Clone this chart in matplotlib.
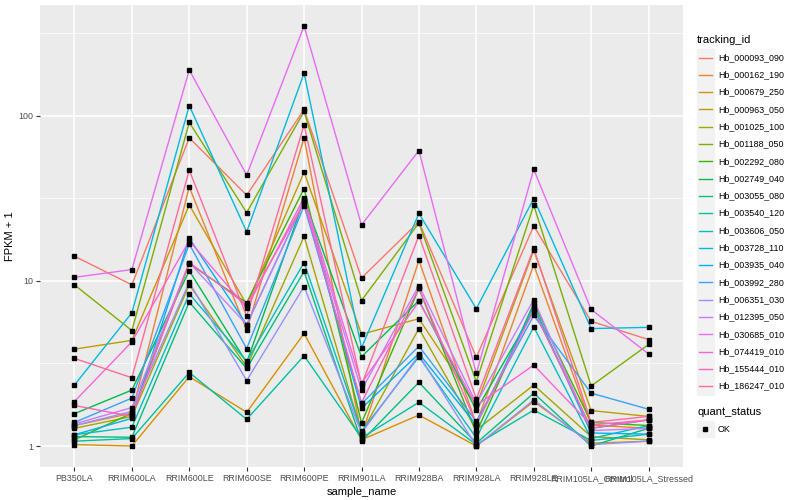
import numpy as np
import matplotlib
matplotlib.use("Agg")
import matplotlib.pyplot as plt
from matplotlib.patches import Rectangle
from matplotlib.lines import Line2D

plt.rcParams['font.family'] = ['Liberation Sans', 'DejaVu Sans']

samples = ["PB350LA", "RRIM600LA", "RRIM600LE", "RRIM600SE", "RRIM600PE",
           "RRIM901LA", "RRIM928BA", "RRIM928LA", "RRIM928LE",
           "RRIM105LA_Control", "RRIM105LA_Stressed"]

tracking_ids = ["Hb_000093_090", "Hb_000162_190", "Hb_000679_250", "Hb_000963_050",
                "Hb_001025_100", "Hb_001188_050", "Hb_002292_080", "Hb_002749_040",
                "Hb_003055_080", "Hb_003540_120", "Hb_003606_050", "Hb_003728_110",
                "Hb_003935_040", "Hb_003992_280", "Hb_006351_030", "Hb_012395_050",
                "Hb_030685_010", "Hb_074419_010", "Hb_155444_010", "Hb_186247_010"]

# FPKM + 1, one row per tracking_id, one column per sample
fpkm = [
    [14.1, 9.46, 73.4, 33.0, 109, 10.4, 22.8, 3.44, 21.5, 5.69, 4.41],
    [1.33, 1.58, 37.0, 5.02, 73.4, 1.16, 13.3, 1.36, 12.5, 1.34, 1.28],
    [1.02, 1.00, 2.63, 1.60, 4.8, 1.09, 1.54, 1.00, 1.86, 1.04, 1.07],
    [3.86, 4.36, 28.8, 7.18, 45.5, 4.75, 5.9, 1.76, 15.3, 1.64, 1.51],
    [1.28, 1.51, 9.46, 3.02, 18.6, 1.20, 5.14, 1.25, 2.34, 1.14, 1.09],
    [9.46, 5.0, 91, 25.9, 106, 7.6, 22.4, 2.45, 28.7, 2.31, 4.12],
    [1.09, 1.58, 12.7, 7.37, 36.2, 1.38, 9.0, 1.20, 7.3, 1.39, 1.33],
    [1.57, 2.18, 11.5, 3.2, 31.2, 3.47, 7.6, 1.65, 6.63, 1.28, 1.44],
    [1.14, 1.13, 7.44, 2.95, 11.4, 1.07, 2.43, 1.04, 2.09, 1.00, 1.28],
    [1.07, 1.11, 2.79, 1.45, 3.52, 1.12, 1.84, 1.02, 1.65, 1.08, 1.18],
    [1.17, 1.30, 8.35, 3.26, 12.9, 1.23, 3.47, 1.12, 5.26, 1.11, 1.33],
    [2.34, 6.4, 115, 19.8, 181, 3.93, 25.6, 6.78, 31.5, 5.14, 5.23],
    [1.17, 1.47, 18.1, 5.43, 30.3, 1.69, 3.63, 1.34, 7.05, 1.20, 1.18],
    [1.39, 1.95, 16.7, 3.89, 28.5, 1.80, 4.02, 1.41, 6.17, 2.09, 1.67],
    [1.33, 1.62, 9.8, 2.49, 9.24, 1.20, 3.55, 1.00, 1.90, 1.02, 1.07],
    [1.36, 1.71, 12.9, 5.43, 30.3, 2.18, 9.37, 1.81, 7.7, 1.24, 1.28],
    [10.5, 11.7, 189, 43.7, 349, 21.8, 61.5, 2.75, 47.3, 6.71, 3.61],
    [1.86, 4.27, 17.5, 6.85, 31.9, 2.40, 7.5, 1.76, 3.09, 1.34, 1.44],
    [1.76, 1.51, 12.9, 7.18, 29.8, 1.83, 9.0, 1.36, 6.63, 1.28, 1.44],
    [3.39, 2.59, 46.8, 6.1, 88, 2.34, 18.8, 1.93, 15.7, 1.39, 1.51],
]


def hcl_hex(h, c=100.0, l=65.0):
    # polar Luv -> sRGB, like R's hcl()
    xn, yn, zn = 95.047, 100.0, 108.883
    un = 4 * xn / (xn + 15 * yn + 3 * zn)
    vn = 9 * yn / (xn + 15 * yn + 3 * zn)
    u = c * np.cos(np.radians(h))
    v = c * np.sin(np.radians(h))
    Y = yn * ((l + 16) / 116) ** 3
    up = u / (13 * l) + un
    vp = v / (13 * l) + vn
    X = Y * 9 * up / (4 * vp)
    Z = Y * (12 - 3 * up - 20 * vp) / (4 * vp)
    X, Y, Z = X / 100, Y / 100, Z / 100
    r = 3.240479 * X - 1.537150 * Y - 0.498535 * Z
    g = -0.969256 * X + 1.875992 * Y + 0.041556 * Z
    b = 0.055648 * X - 0.204043 * Y + 1.057311 * Z
    out = []
    for ch in (r, g, b):
        ch = 12.92 * ch if ch <= 0.0031308 else 1.055 * ch ** (1 / 2.4) - 0.055
        out.append(min(max(ch, 0), 1))
    return tuple(out)


n = len(tracking_ids)
hues = np.linspace(15, 375, n + 1)[:n]
colors = [hcl_hex(h) for h in hues]

fig = plt.figure(figsize=(8, 5), dpi=100)
ax = fig.add_axes([40 / 800, 1 - 467 / 500, 643 / 800, 462 / 500])
ax.set_facecolor('#EBEBEB')

x = np.arange(1, len(samples) + 1)
for i in range(n):
    ax.plot(x, fpkm[i], color=colors[i], lw=1.0, zorder=3)
for i in range(n):
    ax.plot(x, fpkm[i], ls='none', marker='s', ms=2.8, color='black', zorder=4)

ax.set_yscale('log')
ax.set_ylim(10 ** -0.127, 10 ** 2.67)
ax.set_xlim(0.4, len(samples) + 0.6)
ax.set_yticks([1, 10, 100])
ax.set_yticklabels(['1', '10', '100'])
ax.set_yticks([10 ** 0.5, 10 ** 1.5, 10 ** 2.5], minor=True)
ax.yaxis.set_minor_formatter(plt.NullFormatter())
ax.set_xticks(x)
ax.set_xticklabels(samples)

ax.grid(which='major', color='white', lw=1.1, zorder=0)
ax.grid(which='minor', axis='y', color='white', lw=0.5, zorder=0)
ax.set_axisbelow(True)
for s in ax.spines.values():
    s.set_visible(False)
ax.tick_params(which='major', length=3, width=0.8, color='#333333',
               labelsize=6.4, labelcolor='#4D4D4D', pad=2)
ax.tick_params(which='minor', length=0)

ax.set_xlabel('sample_name', fontsize=8, labelpad=3)
ax.set_ylabel('FPKM + 1', fontsize=8, labelpad=2)

# legend drawn by hand, ggplot style
W, H = 800.0, 500.0
fig.text(697 / W, 1 - 40 / H, 'tracking_id', fontsize=8, va='center', ha='left')
step = 17.3
y0 = 57.5
for i, name in enumerate(tracking_ids):
    yc = y0 + i * step
    fig.patches.append(Rectangle((697 / W, 1 - (yc + 8.3) / H), 16.6 / W, 16.6 / H,
                                 transform=fig.transFigure, color='#F2F2F2'))
    fig.lines.append(Line2D([698.5 / W, 712 / W], [1 - yc / H, 1 - yc / H],
                            transform=fig.transFigure, color=colors[i], lw=1.0))
    fig.text(718 / W, 1 - yc / H, name, fontsize=6.4, va='center', ha='left')

fig.text(697 / W, 1 - 412 / H, 'quant_status', fontsize=8, va='center', ha='left')
fig.patches.append(Rectangle((697 / W, 1 - (429 + 8.3) / H), 16.6 / W, 16.6 / H,
                             transform=fig.transFigure, color='#F2F2F2'))
fig.lines.append(Line2D([705 / W], [1 - 429 / H], transform=fig.transFigure,
                        marker='s', ms=2.8, color='black', ls='none'))
fig.text(718 / W, 1 - 429 / H, 'OK', fontsize=6.4, va='center', ha='left')

fig.savefig('out.png', dpi=100)
